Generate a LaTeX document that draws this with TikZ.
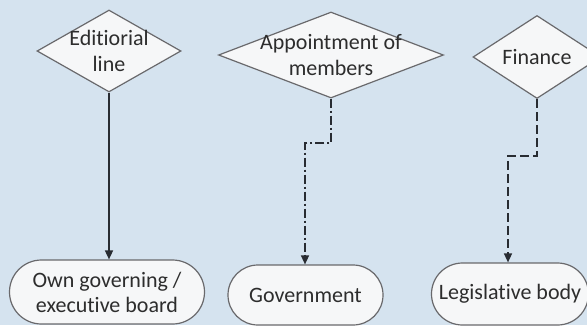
\documentclass[tikz,border=0pt]{standalone}
\usepackage{fontspec}
\setmainfont[Ligatures=NoCommon]{Carlito}
\usetikzlibrary{shapes.geometric,shapes.misc,arrows.meta}
\definecolor{bgblue}{RGB}{213,227,239}
\definecolor{shapefill}{RGB}{246,247,248}
\definecolor{shapeline}{RGB}{105,105,108}
\definecolor{linecol}{RGB}{40,44,50}
\definecolor{txt}{RGB}{45,45,45}
\tikzset{
  decision/.style={diamond, draw=shapeline, fill=shapefill, line width=1.2pt, inner sep=0pt, aspect=1},
  terminal/.style={rounded rectangle, draw=shapeline, fill=shapefill, line width=1.2pt, inner sep=0pt, align=center, text=txt, font=\fontsize{22}{25}\selectfont},
  lbl/.style={align=center, text=txt, font=\fontsize{22}{26}\selectfont},
  conn/.style={draw=linecol, line width=1.5pt, -{Triangle[width=8pt,length=9pt]}},
}
\begin{document}
\begin{tikzpicture}[x=1pt,y=-1pt]
\fill[bgblue] (0,0) rectangle (587,325);
\useasboundingbox (0,0) rectangle (587,325);
\begin{scope}
\clip (0,0) rectangle (587,325);
\node[decision, minimum width=144pt, minimum height=82pt,
  label={[lbl]center:Editiorial\\line}] (d1) at (109,51) {};
\node[decision, minimum width=225pt, minimum height=86pt,
  label={[lbl]center:Appointment of\\members}] (d2) at (331,55) {};
\node[decision, minimum width=128pt, minimum height=83pt,
  label={[lbl]center:Finance}] (d3) at (537,57) {};
\node[terminal, minimum width=195pt, minimum height=64pt] (t1) at (107,292) {Own governing /\\executive board};
\node[terminal, minimum width=155pt, minimum height=60pt] (t2) at (305.5,295) {Government};
\node[terminal, minimum width=157pt, minimum height=62pt] (t3) at (510,294) {Legislative body};
\end{scope}
\coordinate (b2a) at (331,143);
\coordinate (b2b) at (305,143);
\coordinate (b3a) at (537,156);
\coordinate (b3b) at (508,156);
\draw[conn] (d1.south) -- (t1.north -| d1.south);
\draw[conn, dash pattern=on 9pt off 3pt on 2pt off 3pt] (d2.south) -- (b2a) -- (b2b) -- (t2.north -| b2b);
\draw[conn, dash pattern=on 9pt off 4pt] (d3.south) -- (b3a) -- (b3b) -- (t3.north -| b3b);
\end{tikzpicture}
\end{document}
